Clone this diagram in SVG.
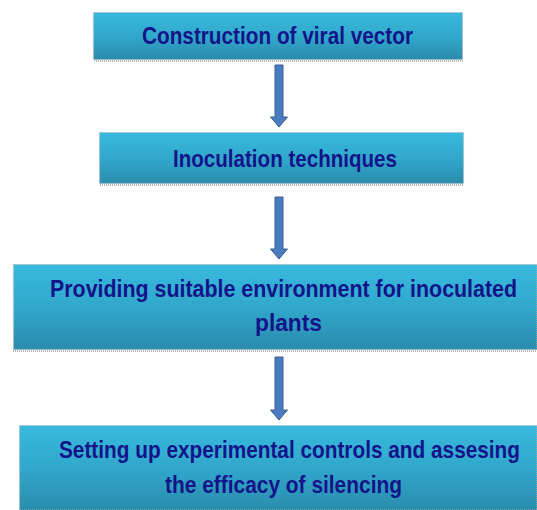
<svg xmlns="http://www.w3.org/2000/svg" width="537" height="510" viewBox="0 0 537 510">
  <style>
    .box { fill: url(#boxFill); stroke: #a9b4b8; stroke-width: 1.2; stroke-dasharray: 1 1; }
    .shade { fill: none; stroke: #b5b5b5; stroke-width: 2; stroke-dasharray: 1 1; }
    .label { font-family: "Liberation Sans", Arial, sans-serif; font-weight: bold; font-size: 24px; fill: #13138a; }
    .arrow { fill: #4a7cc1; stroke: #3a5f92; stroke-width: 1; }
  </style>
  <defs>
    <linearGradient id="boxFill" x1="0" y1="0" x2="0" y2="1">
      <stop offset="0" stop-color="#38b9de"/>
      <stop offset="0.5" stop-color="#31a8cc"/>
      <stop offset="1" stop-color="#2a8cad"/>
    </linearGradient>
  </defs>
  <rect width="537" height="510" fill="#ffffff"/>

  <g id="connectors">
    <path class="arrow" d="M275,65 H283 V117 H287.5 L279,127 L270.5,117 H275 Z"/>
    <path class="arrow" d="M275,197 H283 V249 H287.5 L279,259 L270.5,249 H275 Z"/>
    <path class="arrow" d="M275,357 H283 V410 H287.5 L279,420 L270.5,410 H275 Z"/>
  </g>

  <g id="step1">
    <line class="shade" x1="94" y1="61" x2="463" y2="61"/>
    <rect class="box" x="93.5" y="12.5" width="369" height="47"/>
    <text class="label" x="142" y="44" textLength="271" lengthAdjust="spacingAndGlyphs">Construction of viral vector</text>
  </g>

  <g id="step2">
    <line class="shade" x1="100" y1="185" x2="464" y2="185"/>
    <rect class="box" x="99.5" y="132.5" width="364" height="51"/>
    <text class="label" x="173" y="167" textLength="224" lengthAdjust="spacingAndGlyphs">Inoculation techniques</text>
  </g>

  <g id="step3">
    <line class="shade" x1="13" y1="351" x2="537" y2="351"/>
    <rect class="box" x="13.5" y="264.5" width="523.5" height="85"/>
    <text class="label" x="50" y="297" textLength="467" lengthAdjust="spacingAndGlyphs">Providing suitable environment for inoculated</text>
    <text class="label" x="255" y="331" textLength="67" lengthAdjust="spacingAndGlyphs">plants</text>
  </g>

  <g id="step4">
    <rect class="box" x="19.5" y="425.5" width="517.5" height="84.5"/>
    <text class="label" x="59" y="458" textLength="461" lengthAdjust="spacingAndGlyphs">Setting up experimental controls and assesing</text>
    <text class="label" x="165" y="493" textLength="237" lengthAdjust="spacingAndGlyphs">the efficacy of silencing</text>
  </g>
</svg>
